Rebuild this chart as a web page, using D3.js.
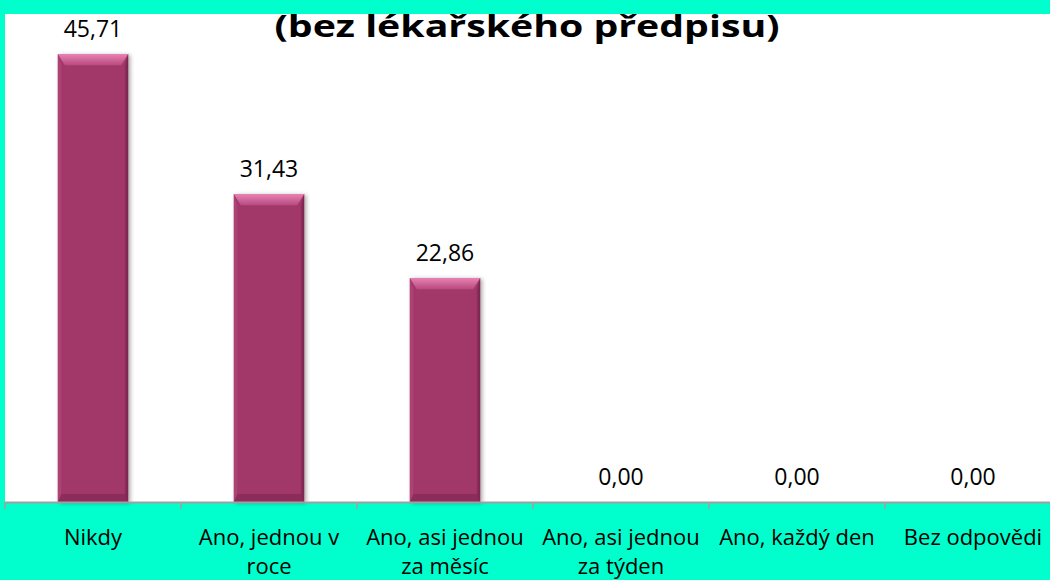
<!DOCTYPE html>
<html>
<head>
<meta charset="utf-8">
<script src="https://cdn.jsdelivr.net/npm/d3@7"></script>
<style>
	body { margin: 0; background: #00FFCC; overflow: hidden; }
	svg { display: block; font-family: 'Open Sans', 'Noto Sans', sans-serif; }
</style>
</head>
<body>
<div id="chart"></div>
<script>
const categories = [
	['Nikdy'],
	['Ano, jednou v', 'roce'],
	['Ano, asi jednou', 'za měsíc'],
	['Ano, asi jednou', 'za týden'],
	['Ano, každý den'],
	['Bez odpovědi'],
]
const values = [45.71, 31.43, 22.86, 0, 0, 0]
const title = '(bez lékařského předpisu)'

const width = 1050
const height = 580
// plot area (it runs off the right edge in the original)
const plot = { left: 5, top: 14, right: 1061, bottom: 502 }

const svg = d3
	.select('#chart')
	.append('svg')
	.attr('width', width)
	.attr('height', height)

const defs = svg.append('defs')
const grad = defs.append('linearGradient').attr('id', 'bevelTop').attr('x1', 0).attr('y1', 0).attr('x2', 0).attr('y2', 1)
grad.append('stop').attr('offset', 0).attr('stop-color', '#e882b2')
grad.append('stop').attr('offset', 1).attr('stop-color', '#b84a80')
const side = defs.append('linearGradient').attr('id', 'bevelSide').attr('x1', 0).attr('y1', 0).attr('x2', 1).attr('y2', 0)
side.append('stop').attr('offset', 0).attr('stop-color', '#8e2d5d')
side.append('stop').attr('offset', 1).attr('stop-color', '#6e1f47')
const shadow = defs.append('filter').attr('id', 'shadow').attr('x', '-20%').attr('y', '-20%').attr('width', '140%').attr('height', '140%')
shadow.append('feDropShadow').attr('dx', 2).attr('dy', 1).attr('stdDeviation', 2).attr('flood-color', '#000').attr('flood-opacity', 0.35)

// white plot background
svg.append('rect')
	.attr('x', plot.left)
	.attr('y', plot.top)
	.attr('width', plot.right - plot.left)
	.attr('height', plot.bottom - plot.top)
	.attr('fill', '#fff')

const x = d3
	.scaleBand()
	.domain(d3.range(categories.length))
	.range([plot.left, plot.right])
	.paddingInner(0.6)
	.paddingOuter(0.3)

const y = d3.scaleLinear().domain([0, 49.8]).range([plot.bottom, plot.top])

const bars = svg
	.append('g')
	.selectAll('g')
	.data(values.map((v, i) => ({ v, i })).filter(d => d.v > 0))
	.join('g')
	.attr('transform', d => `translate(${x(d.i)},${y(d.v)})`)

const bw = x.bandwidth()
const bev = 7
bars.append('rect')
	.attr('width', bw)
	.attr('height', d => y(0) - y(d.v))
	.attr('fill', '#a2396b')
	.attr('filter', 'url(#shadow)')
// top bevel
bars.append('path')
	.attr('d', `M0,0 H${bw} L${bw - bev},${bev * 1.6} H${bev} Z`)
	.attr('fill', 'url(#bevelTop)')
// left bevel
bars.append('path')
	.attr('d', d => `M0,0 L${bev * 0.5},${bev * 1.6} V${y(0) - y(d.v) - 6} L0,${y(0) - y(d.v)} Z`)
	.attr('fill', '#b2477b')
	.attr('opacity', 0.7)
// right bevel
bars.append('path')
	.attr('d', d => `M${bw},0 L${bw - bev * 0.5},${bev * 1.6} V${y(0) - y(d.v) - 6} L${bw},${y(0) - y(d.v)} Z`)
	.attr('fill', 'url(#bevelSide)')
	.attr('opacity', 0.8)
// bottom bevel
bars.append('path')
	.attr('d', d => {
		const h = y(0) - y(d.v)
		return `M0,${h} L${bev * 0.5},${h - 8} H${bw - bev * 0.5} L${bw},${h} Z`
	})
	.attr('fill', '#7c2550')
	.attr('opacity', 0.6)

// value labels
svg.append('g')
	.selectAll('text')
	.data(values)
	.join('text')
	.attr('x', (d, i) => x(i) + bw / 2)
	.attr('y', d => y(d) - 17)
	.attr('text-anchor', 'middle')
	.attr('font-size', 23)
	.attr('fill', '#000')
	.text(d => d3.format('.2f')(d).replace('.', ','))

// axis
const axis = svg.append('g')
axis.append('line')
	.attr('x1', plot.left)
	.attr('x2', plot.right)
	.attr('y1', plot.bottom + 0.5)
	.attr('y2', plot.bottom + 0.5)
	.attr('stroke', '#a0a0a0')
	.attr('stroke-width', 2)
axis.selectAll('.tick')
	.data(d3.range(categories.length + 1))
	.join('line')
	.attr('class', 'tick')
	.attr('x1', i => plot.left + i * (plot.right - plot.left) / categories.length)
	.attr('x2', i => plot.left + i * (plot.right - plot.left) / categories.length)
	.attr('y1', plot.bottom)
	.attr('y2', plot.bottom + 7)
	.attr('stroke', '#a0a0a0')
	.attr('stroke-width', 1.5)

const catLabels = axis
	.selectAll('.cat')
	.data(categories)
	.join('text')
	.attr('class', 'cat')
	.attr('text-anchor', 'middle')
	.attr('font-size', 22)
	.attr('fill', '#000')
catLabels.each(function (lines, i) {
	d3.select(this)
		.selectAll('tspan')
		.data(lines)
		.join('tspan')
		.attr('x', x(i) + bw / 2)
		.attr('y', (d, j) => 545 + j * 29)
		.text(d => d)
})

// title (sits right under the cyan strip, wide bold face)
svg.append('text')
	.attr('x', 527)
	.attr('y', 37)
	.attr('text-anchor', 'middle')
	.attr('font-size', 31)
	.attr('font-weight', 'bold')
	.attr('textLength', 505)
	.attr('lengthAdjust', 'spacingAndGlyphs')
	.attr('fill', '#000')
	.text(title)

svg.append('rect').attr('x', 0).attr('y', 0).attr('width', width).attr('height', 14).attr('fill', '#00FFCC')
</script>
</body>
</html>
